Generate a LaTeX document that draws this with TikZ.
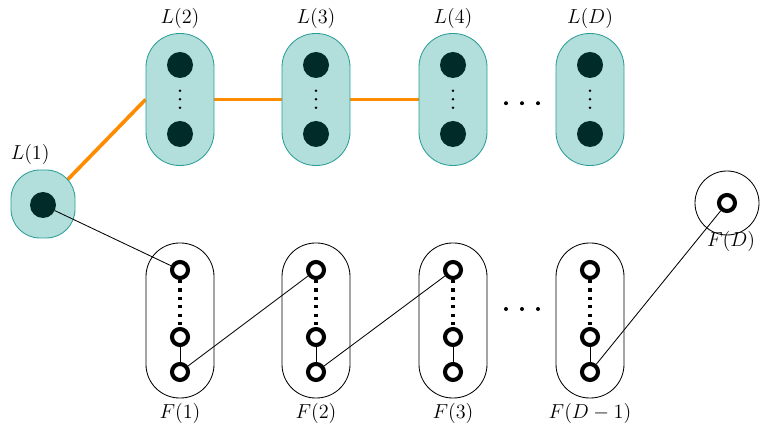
\documentclass[tikz,border=0pt]{standalone}
\usepackage{amsmath}
\usepackage{amssymb}
\usetikzlibrary{arrows}
\usetikzlibrary{shapes, backgrounds}
\definecolor{lfill}{HTML}{B2DEDC}
\definecolor{ledge}{HTML}{2B9D97}
\definecolor{ldark}{HTML}{002B29}
\definecolor{lorange}{HTML}{FF8C00}

\begin{document}
\begin{tikzpicture}[every label/.style={font=\fontsize{15.5}{18}\selectfont},
				   lbox/.style={rectangle, rounded corners=0.84cm, draw=ledge, fill=lfill, line width=0.6pt, minimum width=1.7cm, minimum height=3.3cm},
				   fbox/.style={rectangle, rounded corners=0.84cm, draw=black, line width=0.6pt, minimum width=1.7cm, minimum height=3.875cm},
				   ldot/.style={circle, fill=ldark, inner sep=0pt, minimum size=0.65cm},
				   fring/.style={circle, draw=black, line width=2.9pt, inner sep=0pt, minimum size=0.4cm},
				   fdots/.style={line width=2.6pt, dash pattern=on 2.2pt off 3.8pt},
				   link/.style={black, line width=0.6pt},
				   lline/.style={lorange, line width=2.6pt}]
\useasboundingbox (0,0) rectangle (19,10.8);
\node[lbox, minimum width=1.6cm, minimum height=1.7cm, rounded corners=0.72cm, label={[xshift=-0.32cm]above:$L(1)$}] (L1) at (1.075,5.7) {};
\node[ldot] (l1a) at (1.075,5.675) {};

\node[lbox, label=above:$L(2)$] (L2) at (4.5,8.3125) {};
\node[ldot] (l2a) at (4.5,9.175) {};
\node[ldot] (l2b) at (4.5,7.45) {};
\fill (4.5,8.533) circle (0.035) (4.5,8.318) circle (0.035) (4.5,8.108) circle (0.035);

\node[lbox, label=above:$L(3)$] (L3) at (7.9,8.3125) {};
\node[ldot] (l3a) at (7.9,9.175) {};
\node[ldot] (l3b) at (7.9,7.45) {};
\fill (7.9,8.533) circle (0.035) (7.9,8.318) circle (0.035) (7.9,8.108) circle (0.035);

\node[lbox, label=above:$L(4)$] (L4) at (11.325,8.3125) {};
\node[ldot] (l4a) at (11.325,9.175) {};
\node[ldot] (l4b) at (11.325,7.45) {};
\fill (11.325,8.533) circle (0.035) (11.325,8.318) circle (0.035) (11.325,8.108) circle (0.035);

\fill (12.65,8.22) circle (0.05) (13.05,8.22) circle (0.05) (13.45,8.22) circle (0.05);

\node[lbox, label=above:$L(D)$] (LD) at (14.75,8.3125) {};
\node[ldot] (lda) at (14.75,9.175) {};
\node[ldot] (ldb) at (14.75,7.45) {};
\fill (14.75,8.533) circle (0.035) (14.75,8.318) circle (0.035) (14.75,8.108) circle (0.035);

\begin{pgfonlayer}{background}
\draw[lline] (l1a.center) -- (L2.west);
\draw[lline] (L2) -- (L3);
\draw[lline] (L3) -- (L4);
\end{pgfonlayer}

\node[fbox, label=below:$F(1)$] (F1) at (4.5,2.7875) {};
\node[fring] (f1a) at (4.5,4.05) {};
\node[fring] (f1b) at (4.5,2.375) {};
\node[fring] (f1c) at (4.5,1.5) {};
\draw[fdots] (f1a) -- (f1b);
\draw[link] (f1b) -- (f1c);

\node[fbox, label=below:$F(2)$] (F2) at (7.9,2.7875) {};
\node[fring] (f2a) at (7.9,4.05) {};
\node[fring] (f2b) at (7.9,2.375) {};
\node[fring] (f2c) at (7.9,1.5) {};
\draw[fdots] (f2a) -- (f2b);
\draw[link] (f2b) -- (f2c);

\node[fbox, label=below:$F(3)$] (F3) at (11.325,2.7875) {};
\node[fring] (f3a) at (11.325,4.05) {};
\node[fring] (f3b) at (11.325,2.375) {};
\node[fring] (f3c) at (11.325,1.5) {};
\draw[fdots] (f3a) -- (f3b);
\draw[link] (f3b) -- (f3c);

\fill (12.65,3.075) circle (0.05) (13.05,3.075) circle (0.05) (13.45,3.075) circle (0.05);

\node[fbox, label=below:$F(D-1)$] (F4) at (14.75,2.7875) {};
\node[fring] (f4a) at (14.75,4.05) {};
\node[fring] (f4b) at (14.75,2.375) {};
\node[fring] (f4c) at (14.75,1.5) {};
\draw[fdots] (f4a) -- (f4b);
\draw[link] (f4b) -- (f4c);

\node[circle, draw=black, line width=0.6pt, minimum size=1.6cm, label={[label distance=-0.22cm, xshift=0.1cm]below:$F(D)$}] (FD) at (18.175,5.725) {};
\node[fring] (fd) at (18.175,5.725) {};

\draw[link] (l1a) -- (f1a);
\draw[link] (f1c) -- (f2a);
\draw[link] (f2c) -- (f3a);
\draw[link] (f4c) -- (fd);
\end{tikzpicture}
\end{document}
